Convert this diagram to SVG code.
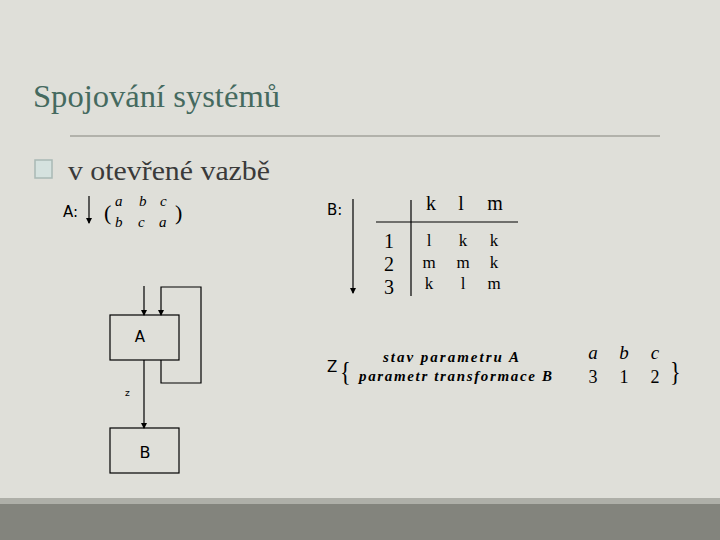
<svg xmlns="http://www.w3.org/2000/svg" width="720" height="540" viewBox="0 0 720 540">
<defs>
<marker id="ah" markerWidth="6" markerHeight="6" refX="5" refY="3" orient="auto" markerUnits="userSpaceOnUse"><path d="M0,0 L6,3 L0,6 z" fill="#000"/></marker>
<style>
.ln{stroke:#000;stroke-width:1.2;fill:none}
.box{stroke:#000;stroke-width:1.2;fill:none}
.sans{font-family:"DejaVu Sans","Liberation Sans",sans-serif;fill:#000}
.ser{font-family:"Liberation Serif","DejaVu Serif",serif;fill:#000}
.it{font-family:"Liberation Serif","DejaVu Serif",serif;font-style:italic;fill:#000}
</style>
</defs>
<rect width="720" height="540" fill="#dfdfd9"/>
<rect x="0" y="498" width="720" height="6" fill="#aeafa8"/>
<rect x="0" y="504" width="720" height="36" fill="#83847d"/>
<text x="33" y="107" font-family="Liberation Serif,serif" font-size="32" fill="#456a5f" textLength="247" lengthAdjust="spacingAndGlyphs">Spojování systémů</text>
<line x1="70" y1="136" x2="660" y2="136" stroke="#85857f" stroke-width="1.2"/>
<rect x="35" y="160" width="17" height="18" fill="#d5e2df" stroke="#a9b9b5" stroke-width="1.5"/>
<text x="68" y="180" font-family="Liberation Serif,serif" font-size="28" fill="#3a3a3a" textLength="202" lengthAdjust="spacingAndGlyphs">v otevřené vazbě</text>
<g id="labelA">
<text x="63" y="217" class="sans" font-size="15">A:</text>
</g>
<g id="matrixA">
<text x="104" y="220" class="ser" font-size="22">(</text>
<text x="115" y="206" class="it" font-size="15">a</text>
<text x="139" y="206" class="it" font-size="15">b</text>
<text x="160" y="206" class="it" font-size="15">c</text>
<text x="115" y="227" class="it" font-size="15">b</text>
<text x="138" y="227" class="it" font-size="15">c</text>
<text x="159" y="227" class="it" font-size="15">a</text>
<text x="175" y="220" class="ser" font-size="22">)</text>
</g>
<g id="labelB">
<text x="327" y="215" class="sans" font-size="15">B:</text>
</g>
<g id="tableB" class="ser">
<line x1="411" y1="200" x2="411" y2="296" class="ln"/>
<line x1="376" y1="222" x2="518" y2="222" class="ln"/>
<text x="431" y="210" font-size="20" text-anchor="middle">k</text>
<text x="461" y="210" font-size="20" text-anchor="middle">l</text>
<text x="495" y="210" font-size="20" text-anchor="middle">m</text>
<text x="389" y="248" font-size="20" text-anchor="middle">1</text>
<text x="389" y="271" font-size="20" text-anchor="middle">2</text>
<text x="389" y="294" font-size="20" text-anchor="middle">3</text>
<text x="429" y="246" font-size="17" text-anchor="middle">l</text>
<text x="463" y="246" font-size="17" text-anchor="middle">k</text>
<text x="494" y="246" font-size="17" text-anchor="middle">k</text>
<text x="429" y="268" font-size="17" text-anchor="middle">m</text>
<text x="463" y="268" font-size="17" text-anchor="middle">m</text>
<text x="494" y="268" font-size="17" text-anchor="middle">k</text>
<text x="429" y="289" font-size="17" text-anchor="middle">k</text>
<text x="463" y="289" font-size="17" text-anchor="middle">l</text>
<text x="494" y="289" font-size="17" text-anchor="middle">m</text>
</g>
<g id="nodeA">
<rect x="110" y="315" width="69" height="45" class="box"/>
<text x="140" y="342" class="sans" font-size="15" text-anchor="middle">A</text>
</g>
<g id="nodeB">
<rect x="110" y="428" width="69" height="45" class="box"/>
<text x="145" y="458" class="sans" font-size="16" text-anchor="middle">B</text>
</g>
<text x="125" y="396" class="sans" font-size="9">z</text>
<g id="connectors">
<line x1="89" y1="196" x2="89" y2="223" class="ln" marker-end="url(#ah)"/>
<line x1="353" y1="199" x2="353" y2="293" class="ln" marker-end="url(#ah)"/>
<line x1="144" y1="286" x2="144" y2="315" class="ln" marker-end="url(#ah)"/>
<polyline points="161,360 161,383 201,383 201,287 161,287 161,315" class="ln" marker-end="url(#ah)"/>
<line x1="144" y1="360" x2="144" y2="428" class="ln" marker-end="url(#ah)"/>
</g>
<g id="zdef">
<text x="327" y="372" class="sans" font-size="15">Z</text>
<text x="340" y="381" class="ser" font-size="28" fill="#555" transform="scale(0.8,1) translate(85,0)">{</text>
<text x="383" y="362" class="it" font-size="15" font-weight="bold" textLength="136" lengthAdjust="spacing">stav  parametru  A</text>
<text x="359" y="381" class="it" font-size="15" font-weight="bold" textLength="193" lengthAdjust="spacing">parametr transformace B</text>
<text x="593" y="359" class="it" font-size="19" text-anchor="middle">a</text>
<text x="624" y="359" class="it" font-size="19" text-anchor="middle">b</text>
<text x="655" y="359" class="it" font-size="19" text-anchor="middle">c</text>
<text x="593" y="383" class="ser" font-size="18" text-anchor="middle">3</text>
<text x="624" y="383" class="ser" font-size="18" text-anchor="middle">1</text>
<text x="655" y="383" class="ser" font-size="18" text-anchor="middle">2</text>
<text x="670" y="381" class="ser" font-size="28" transform="scale(0.8,1) translate(167.5,0)">}</text>
</g>
</svg>
